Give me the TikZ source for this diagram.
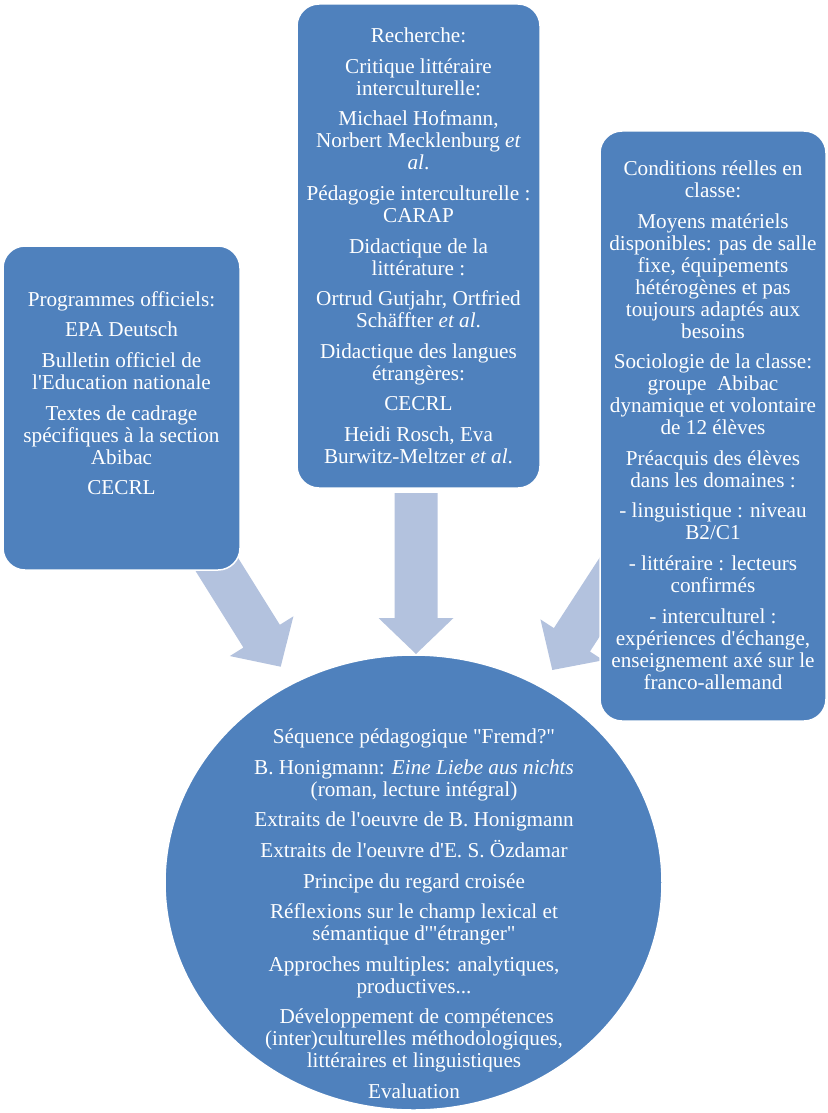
\documentclass[tikz,border=0pt]{standalone}
\usepackage{fontspec}
\setmainfont{Liberation Serif}[Ligatures=TeXOff]
\usetikzlibrary{shapes.geometric}
\definecolor{boxblue}{HTML}{4F81BD}
\definecolor{arrowblue}{RGB}{179,194,222}
\newcommand{\pg}{\\[8.6pt]}
\newcommand{\arrlen}{130}
\newcommand{\blockarr}[2]{% #1 tip coordinate name, #2 rotation
  \begin{scope}[shift={(#1)},rotate=#2]
    \fill[arrowfill] (0,0) -- (-36,37.5) -- (-36,21.5) -- (-\arrlen,21.5) -- (-\arrlen,-21.5) -- (-36,-21.5) -- (-36,-37.5) -- cycle;
  \end{scope}}
\tikzset{
  arrowfill/.style={fill=arrowblue},
  bluebox/.style={draw=white, line width=1.5pt, fill=boxblue, rounded corners=22pt, inner sep=0pt},
  blueoval/.style={ellipse, draw=white, line width=1.5pt, fill=boxblue, inner sep=0pt},
  txt/.style={text=white, align=center, inner sep=0pt, anchor=north,
    font=\fontsize{21.2pt}{22pt}\selectfont},
}
\begin{document}
\begin{tikzpicture}[x=1pt,y=-1pt]
\useasboundingbox (0,0) rectangle (827,1113);

% arrow coordinates
\coordinate (tipL) at (280.7,666.7);
\coordinate (tipM) at (416,654);
\coordinate (tipR) at (552.3,670);

% block arrows (behind the boxes)
\renewcommand{\arrlen}{130}\blockarr{tipL}{-58}
\renewcommand{\arrlen}{161}\blockarr{tipM}{-90}
\renewcommand{\arrlen}{130}\blockarr{tipR}{-123}

% boxes
\node[bluebox, minimum width=237pt, minimum height=324pt] (left) at (121.5,408) {};
\node[bluebox, minimum width=243pt, minimum height=484pt] (mid) at (418.5,246) {};
\node[bluebox, minimum width=226pt, minimum height=590pt] (right) at (713,426) {};
\node[blueoval, minimum width=497pt, minimum height=455pt] (seq) at (413.5,882.5) {};

% texts
\node[txt] (tleft) at (121.5,291.2) {Programmes officiels:\pg
EPA Deutsch\pg
Bulletin officiel de\\ l'Education nationale\pg
Textes de cadrage\\ spécifiques à la section\\ Abibac\pg
CECRL};

\node[txt] (tmid) at (418.5,27.8) {Recherche:\pg
Critique littéraire\\ interculturelle:\pg
Michael Hofmann,\\ Norbert Mecklenburg \textit{et}\\ \textit{al}.\pg
Pédagogie interculturelle :\\ CARAP\pg
Didactique de la\\ littérature :\pg
Ortrud Gutjahr, Ortfried\\ Schäffter \textit{et al}.\pg
Didactique des langues\\ étrangères:\pg
CECRL\pg
Heidi Rosch, Eva\\ Burwitz-Meltzer \textit{et al}.};

\node[txt] (tright) at (713,160.5) {Conditions réelles en\\ classe:\pg
Moyens matériels\\ disponibles: pas de salle\\ fixe, équipements\\ hétérogènes et pas\\ toujours adaptés aux\\ besoins\pg
Sociologie de la classe:\\ groupe~~Abibac\\ dynamique et volontaire\\ de 12 élèves\pg
Préacquis des élèves\\ dans les domaines :\pg
- linguistique : niveau\\ B2/C1\pg
- littéraire : lecteurs\\ confirmés\pg
- interculturel :\\ expériences d'échange,\\ enseignement axé sur le\\ franco-allemand};

\node[txt] (tseq) at (414,728.8) {Séquence pédagogique "Fremd?"\pg
B. Honigmann: \textit{Eine Liebe aus nichts}\\ (roman, lecture intégral)\pg
Extraits de l'oeuvre de B. Honigmann\pg
Extraits de l'oeuvre d'E. S. Özdamar\pg
Principe du regard croisée\pg
Réflexions sur le champ lexical et\\ sémantique d'"étranger"\pg
Approches multiples: analytiques,\\ productives...\pg
~Développement de compétences\\ (inter)culturelles méthodologiques,\\ littéraires et linguistiques\pg
Evaluation};
\end{tikzpicture}
\end{document}
